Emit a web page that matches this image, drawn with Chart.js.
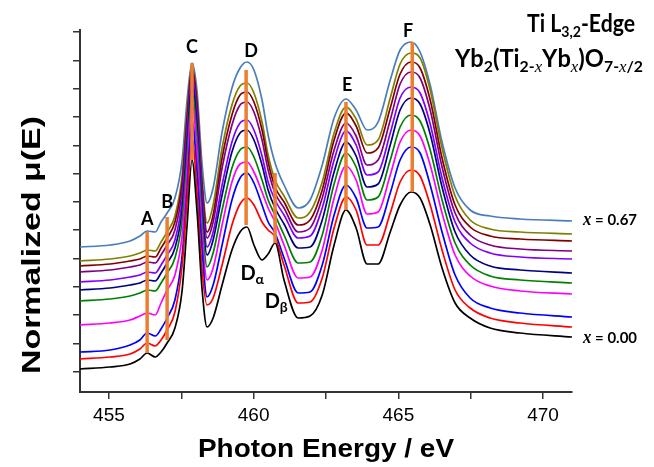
<!DOCTYPE html>
<html>
<head>
<meta charset="utf-8">
<script src="https://cdn.jsdelivr.net/npm/chart.js@4.4.1/dist/chart.umd.min.js"></script>
<style>
  html, body { margin: 0; padding: 0; background: #fff; }
  #wrap { width: 654px; height: 467px; }
</style>
</head>
<body>
<div id="wrap"><canvas id="xasChart"></canvas></div>
<script>
const energy = [454.00, 455.04, 455.73, 456.07, 456.32, 456.60, 456.80, 457.01, 457.28, 457.53,
  457.70, 457.87, 458.04, 458.22, 458.39, 458.60, 458.91, 459.25, 459.53, 459.77,
  460.01, 460.29, 460.50, 460.74, 461.05, 461.54, 461.95, 462.37, 462.78, 463.19,
  463.54, 463.92, 464.30, 464.72, 465.06, 465.44, 465.75, 466.10, 466.51, 466.96,
  467.48, 468.17, 469.21, 471.00];

// Normalized mu(E), stacked with offsets, bottom (x = 0.00) to top (x = 0.67)
const muBlack = [0.23,0.25,0.28,0.33,0.39,0.35,0.40,0.49,0.64,1.02,1.67,2.32,1.82,1.02,0.65,0.74,1.07,1.42,1.60,1.65,1.47,1.32,1.38,1.49,1.12,0.74,0.76,0.97,1.47,1.82,1.64,1.28,1.28,1.60,1.87,2.00,1.94,1.67,1.24,0.89,0.74,0.64,0.59,0.55];
const muRed = [0.33,0.35,0.38,0.43,0.49,0.46,0.52,0.62,0.80,1.27,1.92,2.54,2.02,1.22,0.87,0.94,1.27,1.67,1.88,1.94,1.87,1.70,1.62,1.55,1.27,0.89,0.90,1.14,1.64,1.95,1.82,1.47,1.47,1.79,2.10,2.22,2.16,1.87,1.42,1.02,0.84,0.74,0.69,0.65];
const muBlue = [0.40,0.42,0.47,0.52,0.59,0.56,0.63,0.74,0.92,1.37,2.02,2.72,2.22,1.42,0.95,1.07,1.47,1.92,2.14,2.19,2.09,1.87,1.70,1.59,1.34,0.99,1.00,1.27,1.77,2.07,1.94,1.64,1.65,1.99,2.32,2.45,2.39,2.07,1.60,1.17,0.94,0.84,0.79,0.75];
const muMagenta = [0.67,0.69,0.72,0.76,0.79,0.77,0.89,1.02,1.17,1.57,2.22,2.90,2.42,1.57,1.12,1.24,1.67,2.10,2.28,2.30,2.20,2.00,1.84,1.70,1.47,1.14,1.15,1.42,1.94,2.26,2.12,1.78,1.80,2.17,2.50,2.62,2.56,2.27,1.79,1.37,1.16,1.06,1.01,0.98];
const muGreen = [0.91,0.93,0.96,0.99,1.02,1.01,1.09,1.19,1.34,1.72,2.37,3.00,2.57,1.72,1.25,1.39,1.82,2.24,2.42,2.45,2.35,2.12,1.92,1.77,1.57,1.29,1.30,1.57,2.08,2.39,2.25,1.92,1.95,2.32,2.65,2.77,2.71,2.42,1.92,1.49,1.27,1.16,1.12,1.09];
const muNavy = [1.02,1.04,1.07,1.09,1.12,1.11,1.19,1.29,1.44,1.82,2.47,3.08,2.67,1.82,1.37,1.52,1.97,2.40,2.59,2.62,2.52,2.27,2.02,1.84,1.68,1.44,1.45,1.72,2.20,2.50,2.36,2.05,2.08,2.47,2.82,2.94,2.88,2.58,2.05,1.60,1.37,1.26,1.22,1.19];
const muViolet = [1.10,1.12,1.15,1.17,1.20,1.19,1.27,1.37,1.52,1.92,2.57,3.14,2.75,1.92,1.45,1.60,2.07,2.50,2.69,2.72,2.62,2.36,2.10,1.92,1.77,1.54,1.56,1.84,2.32,2.61,2.47,2.17,2.20,2.59,2.94,3.05,2.99,2.68,2.14,1.70,1.49,1.39,1.35,1.33];
const muPurple = [1.20,1.22,1.25,1.27,1.30,1.29,1.37,1.47,1.62,2.02,2.67,3.20,2.84,2.02,1.54,1.70,2.24,2.67,2.87,2.90,2.80,2.52,2.22,1.99,1.84,1.60,1.64,1.94,2.42,2.69,2.56,2.27,2.32,2.72,3.08,3.20,3.14,2.82,2.25,1.79,1.57,1.47,1.43,1.41];
const muMaroon = [1.26,1.28,1.31,1.33,1.36,1.35,1.44,1.54,1.70,2.10,2.75,3.24,2.90,2.07,1.60,1.77,2.34,2.77,2.97,3.00,2.90,2.62,2.30,2.05,1.90,1.67,1.72,2.02,2.52,2.79,2.66,2.39,2.44,2.84,3.18,3.30,3.24,2.92,2.34,1.87,1.65,1.56,1.53,1.51];
const muOlive = [1.31,1.33,1.36,1.39,1.42,1.41,1.50,1.60,1.76,2.17,2.82,3.26,2.94,2.12,1.69,1.87,2.44,2.87,3.06,3.09,2.99,2.70,2.37,2.12,1.96,1.74,1.80,2.10,2.59,2.85,2.73,2.47,2.52,2.94,3.28,3.39,3.34,3.02,2.44,1.96,1.72,1.63,1.60,1.58];
const muSteel = [1.45,1.47,1.51,1.56,1.61,1.60,1.70,1.79,1.94,2.32,2.92,3.29,3.02,2.27,1.89,2.04,2.60,3.04,3.24,3.30,3.22,2.92,2.57,2.29,2.07,1.84,1.92,2.27,2.74,2.93,2.82,2.62,2.70,3.12,3.42,3.50,3.40,3.07,2.50,2.04,1.82,1.76,1.73,1.71];

const spectra = [
  { name: 'x = 0.00', color: '#000000', values: muBlack },
  { name: 'red', color: '#ff0000', values: muRed },
  { name: 'blue', color: '#0000ff', values: muBlue },
  { name: 'magenta', color: '#ff00ff', values: muMagenta },
  { name: 'green', color: '#008000', values: muGreen },
  { name: 'navy', color: '#000080', values: muNavy },
  { name: 'violet', color: '#8000ff', values: muViolet },
  { name: 'purple', color: '#800080', values: muPurple },
  { name: 'maroon', color: '#800000', values: muMaroon },
  { name: 'olive', color: '#808000', values: muOlive },
  { name: 'x = 0.67', color: '#4a7ebb', values: muSteel }
];

// Orange markers through the peak positions
const peakEnergy = [456.32, 457.01, 457.87, 459.74, 460.74, 463.19, 465.48];
const peakTop = [1.60, 1.75, 3.29, 3.22, 2.19, 2.90, 3.50];
const peakBottom = [0.39, 0.52, 2.32, 1.67, 1.49, 1.82, 2.00];

// Peak letters (energy, mu at baseline)
const labelText = ['A', 'B', 'C', 'D', 'E', 'F'];
const labelEnergy = [456.32, 457.01, 457.87, 459.91, 463.23, 465.34];
const labelMu = [1.67, 1.84, 3.39, 3.35, 3.01, 3.55];

const xTicks = [455, 457.5, 460, 462.5, 465, 467.5, 470];
const yTicks = [0.20, 0.48, 0.77, 1.05, 1.33, 1.62, 1.90, 2.18, 2.46, 2.75, 3.03, 3.31, 3.60];

const datasets = [];
peakEnergy.forEach((e, i) => {
  datasets.push({
    label: 'peak ' + i,
    data: [{ x: e, y: peakBottom[i] }, { x: e, y: peakTop[i] }],
    borderColor: '#ed7d31',
    borderWidth: 3.5,
    pointRadius: 0,
    order: 0
  });
});
spectra.forEach(s => {
  datasets.push({
    label: s.name,
    data: energy.map((e, i) => ({ x: e, y: s.values[i] })),
    borderColor: s.color,
    borderWidth: 1.7,
    pointRadius: 0,
    cubicInterpolationMode: 'monotone',
    order: 1
  });
});

// draws a run of text pieces (for subscripts), optionally squeezed to a width
function drawParts(ctx, parts, x, y, align, fitWidth) {
  let total = 0;
  parts.forEach(p => {
    ctx.font = p.font;
    p.w = ctx.measureText(p.text).width;
    total += p.w;
  });
  const sx = fitWidth ? fitWidth / total : 1;
  ctx.save();
  ctx.translate(x, y);
  ctx.scale(sx, 1);
  let cx = align === 'right' ? -total : align === 'center' ? -total / 2 : 0;
  parts.forEach(p => {
    ctx.font = p.font;
    ctx.fillText(p.text, cx, p.dy || 0);
    cx += p.w;
  });
  ctx.restore();
}

const annotations = {
  id: 'annotations',
  afterDraw(chart) {
    const ctx = chart.ctx;
    const xs = chart.scales.x, ys = chart.scales.y;
    const area = chart.chartArea;
    ctx.save();
    ctx.fillStyle = '#000';
    ctx.textBaseline = 'alphabetic';

    const big = 'bold 18px Lato';
    labelText.forEach((t, i) => {
      drawParts(ctx, [{ text: t, font: big }], xs.getPixelForValue(labelEnergy[i]), ys.getPixelForValue(labelMu[i]), 'center');
    });
    drawParts(ctx, [{ text: 'D', font: 'bold 20px Lato' }, { text: 'α', font: 'bold 14px Lato', dy: 4 }],
      xs.getPixelForValue(459.95), ys.getPixelForValue(1.12), 'center');
    drawParts(ctx, [{ text: 'D', font: 'bold 20px Lato' }, { text: 'β', font: 'bold 14px Lato', dy: 4 }],
      xs.getPixelForValue(460.78), ys.getPixelForValue(0.84), 'center');

    // composition labels at the right end of the top and bottom spectra
    const last = energy.length - 1;
    ctx.textBaseline = 'middle';
    drawParts(ctx, [{ text: 'x', font: 'italic bold 18px "Liberation Serif"' }, { text: ' = 0.67', font: 'bold 16px Lato' }],
      area.right + 11, ys.getPixelForValue(muSteel[last]) - 1, 'left', 54);
    drawParts(ctx, [{ text: 'x', font: 'italic bold 18px "Liberation Serif"' }, { text: ' = 0.00', font: 'bold 16px Lato' }],
      area.right + 11, ys.getPixelForValue(muBlack[last]) + 1, 'left', 54);
    ctx.textBaseline = 'alphabetic';

    // title block
    const tf = 'bold 24px Lato', sf = 'bold 16px Lato', xf = 'italic 17px "Liberation Serif"';
    drawParts(ctx, [{ text: 'Ti L', font: tf }, { text: '3,2', font: sf, dy: 5 }, { text: '-Edge', font: tf }],
      635, 32, 'right', 108);
    drawParts(ctx, [
      { text: 'Yb', font: tf }, { text: '2', font: sf, dy: 5 }, { text: '(Ti', font: tf },
      { text: '2-', font: sf, dy: 5 }, { text: 'x', font: xf, dy: 5 }, { text: 'Yb', font: tf },
      { text: 'x', font: xf, dy: 5 }, { text: ')O', font: tf }, { text: '7-', font: sf, dy: 5 },
      { text: 'x', font: xf, dy: 5 }, { text: '/2', font: sf, dy: 5 }
    ], 643, 67, 'right', 188);

    // axis titles
    drawParts(ctx, [{ text: 'Photon Energy / eV', font: 'bold 25px "Liberation Sans"' }], 326, 457, 'center', 256);
    ctx.save();
    ctx.translate(33, 245);
    ctx.rotate(-Math.PI / 2);
    ctx.textBaseline = 'middle';
    drawParts(ctx, [{ text: 'Normalized μ(E)', font: 'bold 25px "Liberation Sans"' }], 0, 0, 'center', 258);
    ctx.restore();

    ctx.restore();
  }
};

const axisColor = '#333333';

new Chart(document.getElementById('xasChart'), {
  type: 'line',
  data: { datasets: datasets },
  options: {
    responsive: true,
    maintainAspectRatio: false,
    animation: false,
    layout: { padding: { top: 30, right: 82, left: 0, bottom: 0 } },
    plugins: { legend: { display: false }, tooltip: { enabled: false } },
    scales: {
      x: {
        type: 'linear',
        min: 454,
        max: 471,
        afterBuildTicks: scale => { scale.ticks = xTicks.map(v => ({ value: v })); },
        afterFit: scale => { scale.height = 75; },
        ticks: {
          color: '#000',
          font: { family: 'Liberation Sans', size: 19 },
          padding: 5,
          maxRotation: 0,
          autoSkip: false,
          callback: v => (v % 5 === 0 ? String(v) : '')
        },
        grid: { drawOnChartArea: false, drawTicks: true, tickLength: 7, color: axisColor, lineWidth: 1.5 },
        border: { display: true, color: axisColor, width: 2 }
      },
      y: {
        min: 0,
        max: 3.62,
        afterBuildTicks: scale => { scale.ticks = yTicks.map(v => ({ value: v })); },
        afterFit: scale => { scale.width = 80; },
        ticks: { display: true, callback: () => '' },
        grid: { drawOnChartArea: false, drawTicks: true, tickLength: 7, color: axisColor, lineWidth: 1.5 },
        border: { display: true, color: axisColor, width: 2 }
      }
    }
  },
  plugins: [annotations]
});
</script>
</body>
</html>
